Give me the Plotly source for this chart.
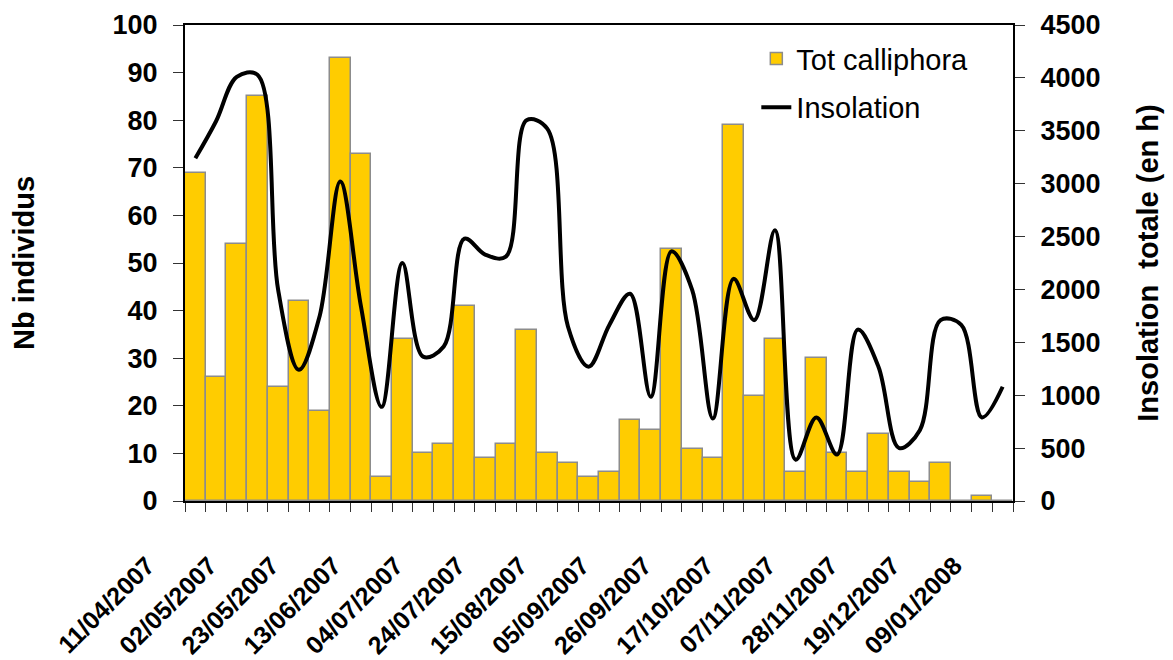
import plotly.graph_objects as go

categories = ["11/04/2007", "18/04/2007", "25/04/2007", "02/05/2007", "09/05/2007", "16/05/2007",
              "23/05/2007", "30/05/2007", "06/06/2007", "13/06/2007", "20/06/2007", "27/06/2007",
              "04/07/2007", "11/07/2007", "18/07/2007", "24/07/2007", "31/07/2007", "07/08/2007",
              "15/08/2007", "22/08/2007", "29/08/2007", "05/09/2007", "12/09/2007", "19/09/2007",
              "26/09/2007", "03/10/2007", "10/10/2007", "17/10/2007", "24/10/2007", "31/10/2007",
              "07/11/2007", "14/11/2007", "21/11/2007", "28/11/2007", "05/12/2007", "12/12/2007",
              "19/12/2007", "26/12/2007", "02/01/2008", "09/01/2008"]

label_dates = ["11/04/2007", "02/05/2007", "23/05/2007", "13/06/2007", "04/07/2007", "24/07/2007",
               "15/08/2007", "05/09/2007", "26/09/2007", "17/10/2007", "07/11/2007", "28/11/2007",
               "19/12/2007", "09/01/2008"]

tot_calliphora = [69, 26, 54, 85, 24, 42, 19, 93, 73, 5, 34, 10, 12, 41, 9, 12, 36, 10, 8, 5,
                  6, 17, 15, 53, 11, 9, 79, 22, 34, 6, 30, 10, 6, 14, 6, 4, 8, 0, 1, 0]

insolation = [3240, 3590, 4010, 4030, 1995, 1240, 1745, 3020, 1840, 890, 2250, 1365, 1460, 2480,
              2330, 2310, 3600, 3520, 1650, 1270, 1665, 1960, 985, 2360, 1995, 780, 2100, 1710,
              2560, 390, 790, 440, 1620, 1270, 500, 670, 1710, 1665, 790, 1080]

left_ticks = [0, 10, 20, 30, 40, 50, 60, 70, 80, 90, 100]
right_ticks = [0, 500, 1000, 1500, 2000, 2500, 3000, 3500, 4000, 4500]

ticktext = [c if c in label_dates else "" for c in categories]

FONT = "Liberation Sans, Arial, sans-serif"

fig = go.Figure()
fig.add_trace(go.Bar(
    x=categories, y=tot_calliphora, name="Tot calliphora",
    marker=dict(color="#FFCC00", line=dict(color="#8C8C8C", width=1.5)),
    yaxis="y", legendgroup="a"))
fig.add_trace(go.Scatter(
    x=categories, y=insolation, name="Insolation", mode="lines",
    line=dict(color="black", width=4, shape="spline", smoothing=1.0),
    yaxis="y2", legendgroup="b"))

fig.update_layout(
    width=1173, height=660,
    margin=dict(l=177, r=168, t=17, b=167, autoexpand=False),
    paper_bgcolor="white", plot_bgcolor="white",
    bargap=0,
    font=dict(family=FONT, color="black"),
    showlegend=True,
    legend=dict(x=0.69, y=0.983, xanchor="left", yanchor="top",
                bgcolor="rgba(0,0,0,0)", font=dict(size=29, family=FONT),
                tracegroupgap=8, traceorder="grouped"),
    xaxis=dict(type="category", categoryorder="array", categoryarray=categories,
               tickmode="array", tickvals=categories, ticktext=ticktext,
               tickson="boundaries", ticks="outside", ticklen=9, tickcolor="#333",
               tickangle=-45, tickfont=dict(size=25, weight="bold", family=FONT),
               ticklabelshift=-48, ticklabelstandoff=38, automargin=False,
               showline=True, linecolor="black", linewidth=2, mirror=True,
               showgrid=False, zeroline=False),
    yaxis=dict(range=[0, 100], tickmode="array", tickvals=left_ticks,
               ticks="outside", ticklen=10, tickcolor="#333",
               tickfont=dict(size=27, weight="bold", family=FONT),
               ticklabelstandoff=10, automargin=False,
               showline=True, linecolor="black", linewidth=2,
               showgrid=False, zeroline=False,
               title=dict(text="Nb individus", font=dict(size=29, weight="bold", family=FONT),
                          standoff=70)),
    yaxis2=dict(range=[0, 4500], tickmode="array", tickvals=right_ticks,
                overlaying="y", side="right", anchor="x",
                ticks="outside", ticklen=10, tickcolor="#333",
                tickfont=dict(size=27, weight="bold", family=FONT),
                ticklabelstandoff=10, automargin=False,
                showline=True, linecolor="black", linewidth=2,
                showgrid=False, zeroline=False,
                title=dict(text="Insolation\u00a0 totale (en h)",
                           font=dict(size=29, weight="bold", family=FONT), standoff=38)),
    yaxis3=dict(range=[0, 100], tickmode="array", tickvals=left_ticks,
                overlaying="y", side="left", anchor="x", automargin=False,
                ticks="inside", ticklen=10, tickcolor="#333", showticklabels=False,
                showline=False, showgrid=False, zeroline=False),
    yaxis4=dict(range=[0, 4500], tickmode="array", tickvals=right_ticks,
                overlaying="y", side="right", anchor="x", automargin=False,
                ticks="inside", ticklen=10, tickcolor="#333", showticklabels=False,
                showline=False, showgrid=False, zeroline=False),
)

fig.write_html("out.html")
